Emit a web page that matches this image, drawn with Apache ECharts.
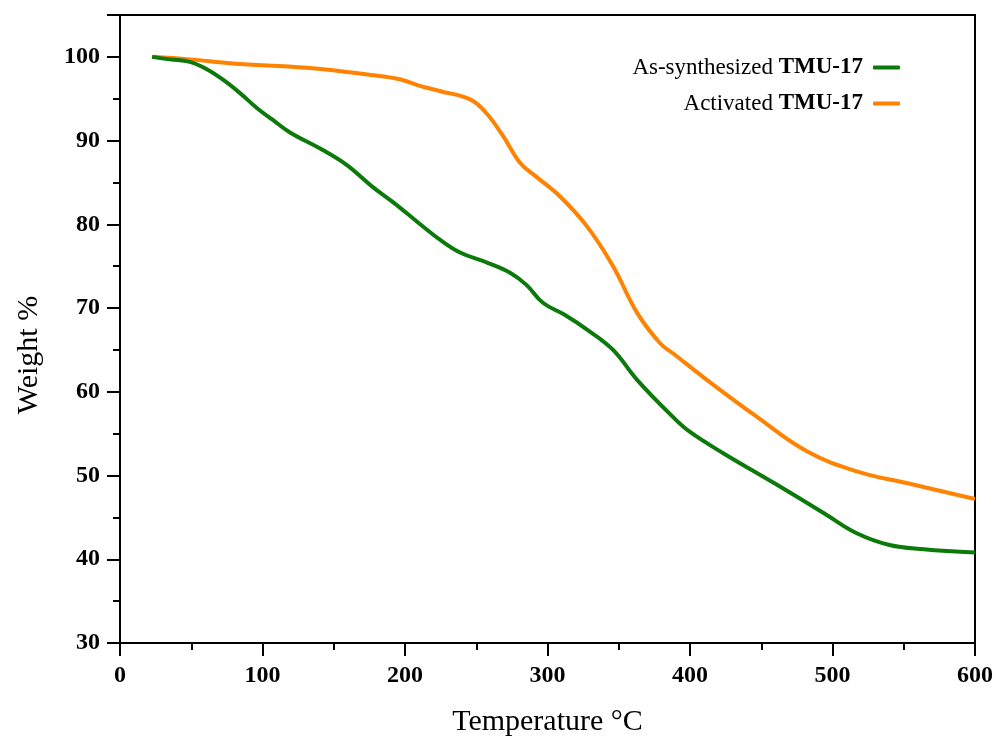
<!DOCTYPE html>
<html>
<head>
<meta charset="utf-8">
<script src="https://cdn.jsdelivr.net/npm/echarts@6/dist/echarts.min.js"></script>
<style>html,body{margin:0;padding:0;background:#fff}#c{width:998px;height:743px}</style>
</head>
<body>
<div id="c"></div>
<script>
const seriesNames = ['As-synthesized TMU-17', 'Activated TMU-17'];
const tempAs = [22.5, 35, 49, 60, 72, 84, 96, 107, 119, 142, 159, 177, 192, 210, 225, 239, 258, 274, 285, 297, 312, 328, 346, 363, 388, 400, 423, 459, 494, 517, 540, 564, 600];
const weightAs = [100, 99.7, 99.4, 98.6, 97.3, 95.7, 93.9, 92.5, 91.0, 88.9, 87.1, 84.5, 82.6, 80.1, 78.1, 76.6, 75.4, 74.2, 72.8, 70.6, 69.2, 67.4, 65.0, 61.4, 57.0, 55.2, 52.7, 49.1, 45.5, 43.1, 41.7, 41.2, 40.8];
const tempAct = [22.8, 49, 79, 131, 178, 197, 211, 225, 246, 257, 269, 281, 292, 309, 328, 346, 363, 379, 388, 412, 447, 482, 517, 552, 600];
const weightAct = [100, 99.7, 99.2, 98.7, 97.8, 97.3, 96.5, 95.9, 94.9, 93.3, 90.5, 87.3, 85.7, 83.3, 79.7, 75.0, 69.4, 65.8, 64.6, 61.4, 57.0, 52.9, 50.5, 49.1, 47.2];
const xTicks = {min: 0, max: 600, interval: 100};
const yTicks = {min: 30, max: 105, interval: 10};

const pairs = (xs, ys) => xs.map((x, i) => [x, ys[i]]);
const font = 'Liberation Serif';
const chart = echarts.init(document.getElementById('c'));
chart.setOption({
  animation: false,
  grid: {left: 120, right: 23, top: 15, bottom: 100, show: true, borderColor: '#000', borderWidth: 2, backgroundColor: 'transparent'},
  legend: {
    orient: 'vertical', right: 98, top: 56, align: 'right', itemGap: 13, padding: 0,
    icon: 'roundRect', itemWidth: 27, itemHeight: 4,
    formatter: name => '{n|' + name.replace(' TMU-17', '') + ' }{b|TMU-17}',
    textStyle: {
      fontFamily: font, fontSize: 23, color: '#000',
      rich: {n: {fontFamily: font, fontSize: 23, color: '#000'}, b: {fontFamily: font, fontSize: 23, fontWeight: 'bold', color: '#000', padding: [0, 5, 0, 0]}}
    },
    data: seriesNames
  },
  xAxis: {
    type: 'value', min: xTicks.min, max: xTicks.max, interval: xTicks.interval,
    name: 'Temperature °C', nameLocation: 'middle', nameGap: 64,
    nameTextStyle: {fontFamily: font, fontSize: 30, color: '#000'},
    axisLine: {show: true, lineStyle: {color: '#000', width: 2}},
    axisTick: {show: true, length: 13, lineStyle: {color: '#000', width: 2}},
    minorTick: {show: true, splitNumber: 2, length: 7, lineStyle: {color: '#000', width: 2}},
    splitLine: {show: false},
    axisLabel: {fontFamily: font, fontSize: 24, fontWeight: 'bold', color: '#000', margin: 21}
  },
  yAxis: {
    type: 'value', min: yTicks.min, max: yTicks.max, interval: yTicks.interval,
    name: 'Weight %', nameLocation: 'middle', nameGap: 76,
    nameTextStyle: {fontFamily: font, fontSize: 30, color: '#000', padding: [0, 52, 0, 0]},
    axisLine: {show: true, lineStyle: {color: '#000', width: 2}},
    axisTick: {show: true, length: 13, lineStyle: {color: '#000', width: 2}},
    minorTick: {show: true, splitNumber: 2, length: 7, lineStyle: {color: '#000', width: 2}},
    splitLine: {show: false},
    axisLabel: {fontFamily: font, fontSize: 24, fontWeight: 'bold', color: '#000', margin: 20,
      formatter: v => (v % 10 === 0 ? String(v) : '')}
  },
  series: [
    {name: seriesNames[0], type: 'line', data: pairs(tempAs, weightAs), smooth: 0.4, showSymbol: false,
     lineStyle: {color: '#0b7a0b', width: 4}, itemStyle: {color: '#0b7a0b'}, z: 3},
    {name: seriesNames[1], type: 'line', data: pairs(tempAct, weightAct), smooth: 0.4, showSymbol: false,
     lineStyle: {color: '#ff8200', width: 4}, itemStyle: {color: '#ff8200'}, z: 2}
  ]
});
</script>
</body>
</html>
